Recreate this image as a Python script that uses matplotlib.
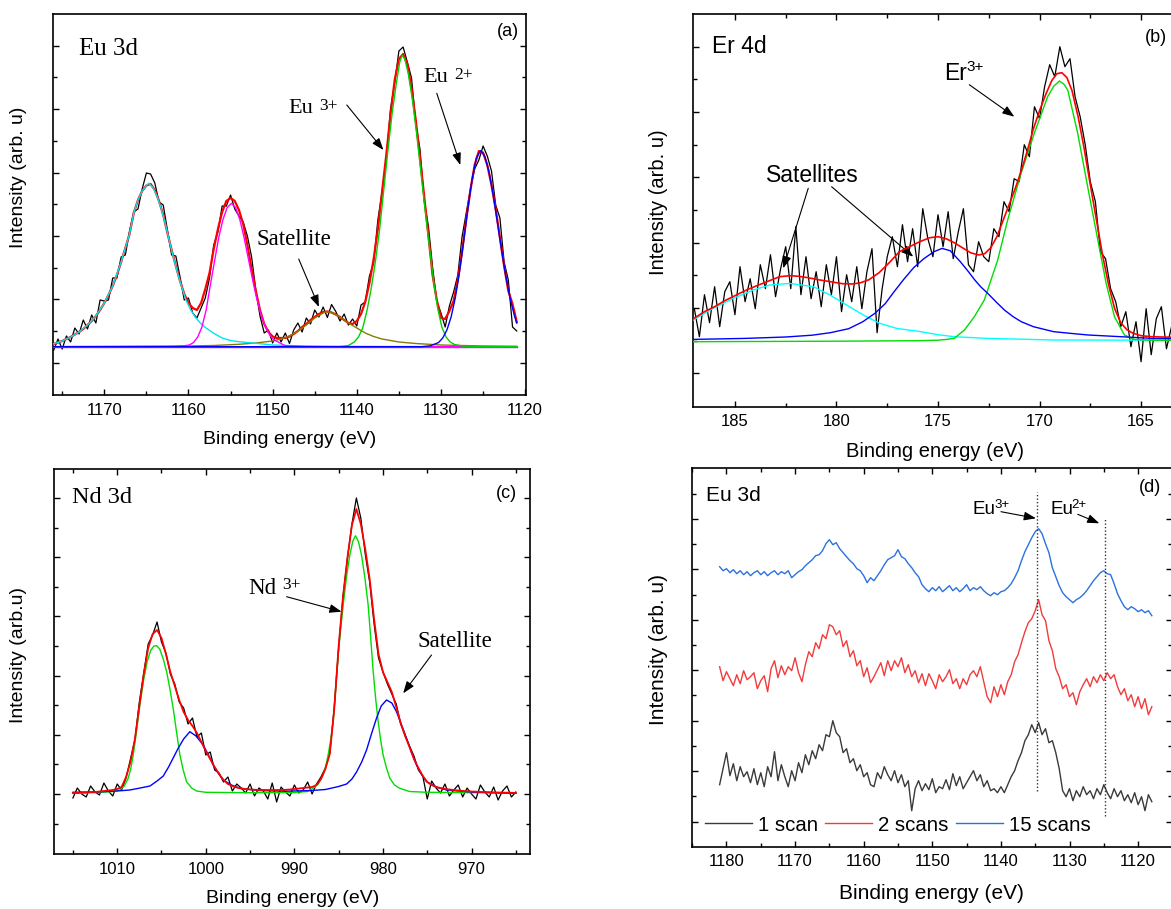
import numpy as np
import matplotlib
matplotlib.use('Agg')
import matplotlib.pyplot as plt
from matplotlib.ticker import FixedLocator, MultipleLocator

SANS = 'Liberation Sans'
SERIF = 'Liberation Serif'
plt.rcParams['font.family'] = [SANS, 'DejaVu Sans']

# ---------------- Panel (a): Eu 3d fit ----------------
A_E_START, A_E_STEP = 1176.0, 0.5
A_DATA = [45, 56, 46, 59, 53, 67, 61, 75, 66, 80,
          72, 95, 94, 95, 117, 117, 138, 140, 164, 183,
          186, 206, 222, 221, 212, 193, 190, 165, 140, 139,
          118, 95, 97, 82, 77, 87, 97, 117, 150, 163,
          189, 189, 200, 186, 179, 173, 159, 138, 105, 79,
          62, 65, 52, 62, 53, 62, 51.5, 65, 72, 63,
          77, 71, 85, 78, 88, 77.5, 90.5, 83.5, 74, 81,
          70, 76, 69, 90, 93, 119, 132, 175, 203, 235,
          286, 312, 344, 348, 333, 317, 272, 246, 195, 169,
          128, 94, 82, 68, 89, 103, 120, 158, 182, 206,
          226, 235, 249, 239, 224, 190, 177, 133, 115, 68, 64]
A_ENV = [51, 52.5, 54, 56, 58, 60.5, 63, 66, 70, 74,
         79, 85, 92, 100, 109, 120, 133, 147, 161, 182,
         195, 204, 209.5, 211, 205, 194, 180, 162, 145, 129,
         114, 101, 92, 87, 85, 92, 106, 122, 146, 166,
         183, 194, 197, 194, 185, 171, 150, 126, 104, 85,
         71, 63, 58.5, 57, 57, 57, 58.5, 61, 64, 68,
         71, 75, 78, 81, 83, 83.5, 82.5, 80.5, 78, 75,
         72, 71, 74, 81, 93, 112, 136, 166, 203, 240,
         280, 315, 336, 341, 331, 307, 275, 238, 199, 160,
         120, 95, 77, 76, 84, 94, 115, 143, 176, 205,
         230, 244, 242.5, 230, 210, 186, 157.5, 129, 104, 91, 73]
A_BASE = 48.3
A_CYAN_E = [1176.1, 1175, 1174, 1173, 1172, 1171, 1170, 1169, 1168, 1167, 1166.5, 1166, 1165.5, 1165,
            1164.7, 1164.2, 1163.7, 1163.3, 1162.8, 1162.3, 1161.8, 1161.3, 1160.8, 1160.3, 1159.8,
            1159.2, 1158.6, 1158, 1157, 1156, 1155, 1154, 1152, 1150, 1147, 1144, 1140, 1135, 1121]
A_CYAN_H = [51, 54, 58, 63, 70, 79, 92, 109, 133, 161, 182, 195, 204, 209.5,
            211.7, 207, 198, 188, 173, 155, 138, 122, 108, 95, 86,
            78, 72, 67.5, 61.7, 57, 54.5, 53.3, 51.7, 50, 49.2, 48.8, 48.5, 48.4, 48.3]
A_MAG_E = [1176.1, 1162, 1160.5, 1159.9, 1159.4, 1158.9, 1158.4, 1157.9, 1157.4, 1156.9, 1156.4, 1155.9,
           1155.4, 1154.9, 1154.4, 1153.9, 1153.4, 1152.9, 1152.4, 1151.9, 1151.4, 1150.9, 1150.4,
           1149.9, 1148.5, 1146, 1121]
A_MAG_H = [48.3, 48.5, 49.2, 50, 52.5, 58, 68, 85, 110, 134, 157.7, 175.5,
           187.4, 191.7, 187.4, 175.5, 157.7, 136.9, 116, 96.9, 81.1, 69.2, 60.9,
           55.4, 49.3, 48.4, 48.3]
A_GRN_E = [1176.1, 1142, 1141, 1140.3, 1139.8, 1139.3, 1138.8, 1138.3, 1137.8, 1137.3, 1136.8, 1136.3,
           1135.8, 1135.3, 1134.9, 1134.6, 1134.3, 1133.9, 1133.4, 1132.9, 1132.4, 1131.9, 1131.4,
           1130.9, 1130.4, 1129.9, 1129.4, 1128.9, 1128.4, 1127.5, 1126, 1121]
A_GRN_H = [48.3, 48.3, 49.5, 53, 58, 67, 84, 106, 133, 165, 205, 245,
           282, 312, 333, 340, 336, 322, 296, 262, 224, 186, 150,
           115, 87, 68, 58, 53, 50.5, 49, 48.5, 48.3]
A_BLU_E = [1176.1, 1132.3, 1131.3, 1130.3, 1129.8, 1129.3, 1128.8, 1128.3, 1127.8, 1127.3, 1126.8,
           1126.3, 1125.8, 1125.3, 1124.8, 1124.3, 1123.8, 1123.3, 1122.8, 1122.3, 1121.8, 1121.3, 1121.0]
A_BLU_H = [48.3, 48.3, 49.1, 52.4, 56.9, 64.9, 77.9, 97.2, 123, 154, 186.8,
           216.3, 236.9, 244.3, 238.8, 223.3, 200.2, 172.8, 144.8, 118.9, 97.2, 80.2, 72]
A_OLV_E = [1176.1, 1170, 1160, 1157, 1154, 1152, 1150, 1149, 1148, 1147, 1146, 1145, 1144, 1143.6,
           1143, 1142, 1141, 1140, 1139, 1138, 1137, 1135, 1133, 1130, 1125, 1121]
A_OLV_H = [48.4, 48.6, 49, 49.5, 50.7, 52, 54, 56, 59, 64, 70, 77, 82, 83.3,
           82.5, 78, 72, 67, 62, 58.5, 56, 53, 51.5, 50, 49, 48.7]

# ---------------- Panel (b): Er 4d fit ----------------
B_E_START, B_E_STEP = 187.0, 0.25
B_DATA = [98, 70, 112, 84, 120, 80, 115, 125, 92, 140,
          105, 128, 98, 142, 118, 152, 110, 138, 160, 118,
          180, 112, 150, 108, 135, 100, 142, 112, 150, 95,
          132, 105, 140, 98, 135, 158, 74, 118, 150, 170,
          140, 182, 145, 178, 140, 198, 168, 150, 192, 160,
          195, 148, 175, 198, 142, 135, 165, 150, 145, 178,
          170, 205, 195, 228, 225, 262, 250, 300, 288, 320,
          342, 330, 360, 340, 348, 310, 290, 262, 225, 205,
          155, 148, 118, 105, 80, 95, 60, 85, 45, 98,
          52, 88, 100, 58, 80]
B_ENV_E = [187.05, 186.5, 186.0, 185.5, 185.0, 184.4, 183.8, 183.3, 182.8, 182.3, 181.9, 181.4, 180.9,
           180.3, 179.7, 179.2, 178.8, 178.4, 177.9, 177.4, 176.9, 176.4, 175.9, 175.4, 175.0, 174.6,
           174.2, 173.8, 173.4, 173.0, 172.7, 172.4, 172.1, 171.8, 171.5, 171.2, 170.9, 170.6, 170.3,
           170.0, 169.7, 169.4, 169.15, 168.9, 168.65, 168.4, 168.1, 167.8, 167.5, 167.2, 166.9, 166.6,
           166.3, 166.0, 165.7, 165.4, 165.0, 164.5, 163.3]
B_ENV_H = [88, 95, 100, 106, 111, 117, 122, 126, 130, 131, 130.5, 129, 127,
           125, 123, 122.7, 124, 127, 134, 144, 155, 160, 165, 169, 170, 168,
           164, 159, 154, 151.7, 153, 159, 170, 186, 202, 218, 236, 256, 278,
           296, 312, 326, 333, 334, 329, 316, 290, 258, 222, 187, 152, 122,
           98, 84, 77, 73.5, 71, 70, 69.3]
B_GRN_E = [187.05, 180.0, 176.0, 175.0, 174.5, 174.2, 173.7, 173.21, 172.72, 172.06, 171.57, 170.91,
           170.26, 169.6, 169.3, 169.02, 168.8, 168.61, 168.12, 167.63, 167.13, 166.72, 166.31,
           165.82, 165.33, 164.5, 163.3]
B_GRN_H = [65, 65.5, 66, 66.5, 67.5, 68.3, 76.7, 90, 106.7, 146.7, 186.7, 233.3,
           273.3, 310, 320.5, 325.7, 322.5, 316.7, 273.3, 220, 166.7, 123.3, 90,
           71.7, 67.3, 66.5, 66.3]
B_BLU_E = [187.05, 184.5, 182.5, 181.2, 180.3, 179.4, 178.7, 178.1, 177.6, 177.2, 176.7, 176.2, 175.7,
           175.2, 174.8, 174.4, 173.9, 173.5, 173.2, 172.9, 172.55, 172.1, 171.73, 171.3, 170.9,
           170.3, 169.3, 168.3, 167.6, 166.0, 164.4, 163.3]
B_BLU_H = [67.3, 68.3, 69.7, 71.5, 74, 78, 85, 93.5, 103, 114, 127, 139, 148,
           155, 158.3, 156, 145, 135, 127, 120, 113.3, 104, 96.7, 90, 85,
           80, 75, 73, 71.7, 70, 68.3, 68]
B_CYN_E = [187.05, 186.07, 185.08, 184.1, 183.28, 182.29, 181.14, 180.32, 179.5, 178.68, 177.86,
           177.03, 175.84, 175.0, 174.2, 172.55, 169.27, 163.3]
B_CYN_H = [86.7, 98.3, 108.3, 116.7, 121.7, 123.3, 120, 111.7, 101.7, 91.7, 83.3,
           78.3, 75, 72, 70, 68.3, 66.7, 66.5]

# ---------------- Panel (c): Nd 3d fit ----------------
C_E_START, C_E_STEP = 1015.0, 0.5
C_DATA = [56, 66, 60, 57, 68, 62, 59, 71, 63, 58,
          70, 64, 76, 95, 114, 152, 181, 210, 219, 232,
          212, 201, 180, 170, 152, 146, 130, 136, 117, 121,
          99, 102, 84, 81, 72, 77, 63, 70, 66, 61,
          70, 58, 66, 63, 55, 71, 52, 67, 62, 58,
          69, 61, 64, 72, 60, 70, 77, 86, 101, 146,
          206, 258, 296, 330, 356, 336, 300, 272, 230, 196,
          182, 170, 160, 150, 130, 119, 108, 98, 84, 78,
          55, 73, 66, 61, 70, 58, 64, 69, 57, 66,
          60, 55, 69, 62, 57, 67, 54, 63, 68, 57, 62]
C_ENV = [61, 61, 61.5, 61.5, 62, 62, 62.5, 63, 63.5, 64,
         65, 67, 77, 92, 115, 148, 180, 206, 220, 224,
         216, 200, 182, 168, 154, 142, 134, 128, 121, 112,
         103, 95, 87, 80, 74, 70, 68, 66.5, 65.5, 65,
         64.5, 64.3, 64, 64, 64, 64, 64, 64, 64.2, 64.5,
         65, 65.5, 66, 66.5, 67, 69, 75, 85, 100, 145,
         208, 258, 297, 329, 345, 330, 305, 275, 235, 200,
         182, 172, 162, 147, 131, 118, 107, 95, 86, 78,
         72, 69, 67, 66, 65, 64.5, 64, 63.5, 63, 62.8,
         62.5, 62.3, 62, 62, 61.8, 61.6, 61.5, 61.4, 61.3, 61.2, 61]
C_GRN_E = [1015, 1012, 1010.5, 1009.7, 1009.2, 1008.76, 1008.45, 1008.19, 1007.8, 1007.44, 1007.0,
           1006.6, 1006.2, 1005.85, 1005.55, 1005.2, 1004.8, 1004.42, 1004.05, 1003.68, 1003.3,
           1002.92, 1002.55, 1002.17, 1001.6, 1001.04, 1000, 995, 990, 988.5, 987.88, 987.3, 986.75,
           986.45, 986.19, 985.9, 985.62, 985.34, 985.06, 984.77, 984.49, 984.1, 983.74, 983.4, 983.1,
           982.75, 982.42, 982.05, 981.67, 981.4, 981.1, 980.82, 980.54, 980.26, 979.98, 979.6,
           979.22, 978.7, 978.1, 977, 975, 965]
C_GRN_H = [60.7, 61.5, 62.5, 64, 68, 75.7, 86, 99, 124, 149, 175,
           193, 204, 208, 208.3, 205, 195, 182.3, 165, 145.7, 122,
           99, 84, 72.3, 66, 63, 61.7, 61.3, 61.5, 62.5, 65.7, 70, 79,
           88, 99, 114, 132.3, 165, 199, 225, 249, 278, 299, 313, 318.3,
           312, 299, 277, 249, 218, 182.3, 155, 132.3, 114, 99, 86,
           75.7, 69, 65.7, 62.5, 61.7, 61]
C_BLU_E = [1015, 1012, 1010, 1008.57, 1007.4, 1006.3, 1005.5, 1004.8, 1004.2, 1003.68, 1003.1,
           1002.5, 1001.8, 1001.1, 1000.29, 999.7, 999.16, 998.6, 998.04, 997.1, 996.15, 994, 991,
           988, 986.5, 985.99, 985, 984.1, 983.5, 982.98, 982.4, 981.85, 981.3, 980.72, 980.2,
           979.6, 979.0, 978.47, 977.9, 977.34, 976.8, 976.21, 975.6, 975.08, 974, 972.82, 970, 965]
C_BLU_H = [61.7, 62.2, 63, 64, 66, 68, 73, 78, 87, 96, 106,
           115, 122.3, 118, 109, 99, 89, 81, 74, 69, 65.7, 63.5, 62.8,
           63.5, 64.5, 65.5, 67.5, 70, 75, 82, 92, 104, 120, 136, 148,
           154, 151, 142.3, 129, 115.7, 102, 89, 79, 72.3, 67, 64, 62, 60.7]

# ---------------- Panel (d): Eu 3d, number of scans ----------------
D_E_START, D_E_STEP = 1181.0, 0.5
D_LABELS = ['1 scan', '2 scans', '15 scans']
D_SCAN1 = [62, 78, 94, 71, 83, 66, 80, 70, 75, 64,
           78, 62, 74, 60, 80, 70, 95, 66, 82, 70,
           60, 76, 66, 84, 74, 92, 82, 96, 88, 102,
           96, 112, 110, 126, 114, 110, 94, 98, 84, 88,
           76, 82, 70, 74, 62, 60, 74, 68, 80, 72,
           66, 76, 64, 72, 60, 66, 36, 58, 66, 56,
           63, 57, 68, 54, 60, 58, 67, 57, 73, 61,
           70, 58, 64, 70, 76, 66, 72, 60, 66, 56,
           58, 54, 60, 54, 62, 70, 76, 86, 94, 106,
           112, 122, 114, 124, 112, 118, 104, 106, 94, 78,
           56, 50, 58, 46, 56, 50, 60, 52, 56, 48,
           58, 52, 62, 54, 48, 58, 50, 56, 46, 52,
           44, 54, 42, 50, 36, 52, 45]
D_SCAN2 = [180, 166, 175, 168, 161, 172, 163, 176, 167, 170,
           174, 158, 166, 171, 155, 178, 186, 169, 181, 172,
           180, 176, 189, 174, 165, 182, 195, 190, 204, 198,
           212, 208, 222, 220, 212, 216, 200, 206, 190, 196,
           181, 186, 170, 179, 164, 170, 177, 184, 171, 186,
           176, 186, 180, 189, 174, 182, 170, 176, 164, 173,
           161, 173, 166, 158, 172, 165, 170, 177, 163, 168,
           158, 168, 162, 172, 176, 170, 180, 165, 150, 144,
           160, 150, 162, 152, 165, 172, 185, 192, 204, 215,
           224, 228, 236, 247, 232, 226, 206, 196, 178, 170,
           158, 162, 150, 154, 142, 155, 162, 168, 160, 170,
           164, 172, 166, 174, 168, 172, 160, 152, 158, 146,
           152, 140, 150, 138, 148, 132, 140]
D_SCAN15 = [280, 276, 278, 274, 277, 273, 276, 272, 275, 271,
            274, 276, 272, 275, 271, 274, 276, 272, 275, 273,
            276, 269, 272, 275, 277, 281, 284, 287, 291, 292,
            296, 303, 307, 302, 304, 298, 294, 290, 286, 283,
            278, 276, 271, 264, 269, 266, 271, 276, 282, 287,
            289, 291, 297, 290, 288, 283, 279, 274, 270, 262,
            258, 255, 259, 256, 260, 255, 258, 261, 256, 259,
            255, 258, 262, 256, 259, 257, 260, 256, 253, 251,
            254, 252, 255, 256, 259, 263, 269, 276, 286, 295,
            302, 309, 315, 318, 313, 303, 294, 279, 270, 261,
            254, 250, 247, 244, 247, 249, 252, 256, 261, 266,
            270, 274, 276, 273, 272, 263, 253, 246, 240, 237,
            240, 238, 235, 237, 234, 236, 231]
D_EU3_LINE = (1134.74, 55.7, 354.4)
D_EU2_LINE = (1124.82, 31.0, 328.4)

W, H = 1171, 909
fig = plt.figure(figsize=(W / 100, H / 100), dpi=100)


def px_axes(l, t, r, b):
    return fig.add_axes([l / W, 1 - b / H, (r - l) / W, (b - t) / H])


def grid(start, step, values):
    return start - step * np.arange(len(values))


def style(ax, xlim, ylim, xmaj, xmin, ymaj, ymin, top=True, right=True):
    ax.set_xlim(*xlim)
    ax.set_ylim(*ylim)
    ax.xaxis.set_major_locator(MultipleLocator(xmaj))
    ax.xaxis.set_minor_locator(MultipleLocator(xmin))
    ax.yaxis.set_major_locator(FixedLocator(ymaj))
    ax.yaxis.set_minor_locator(FixedLocator(ymin))
    ax.tick_params(which='both', direction='in', top=top, right=right, left=True, bottom=True,
                   labelleft=False, labeltop=False, labelright=False)
    ax.tick_params(which='major', length=4.5, width=1.0, labelsize=12, pad=5.5)
    ax.tick_params(which='minor', length=2.6, width=1.0)
    for s in ax.spines.values():
        s.set_linewidth(1.2)


def labels(ax, ylabel, fs, xl_y, yl_xy):
    ax.set_xlabel('Binding energy (eV)', fontsize=fs)
    ax.xaxis.label.set_va('center')
    ax.xaxis.set_label_coords(0.5, xl_y)
    ax.set_ylabel(ylabel, fontsize=fs)
    ax.yaxis.label.set_va('center')
    ax.yaxis.set_label_coords(*yl_xy)


ARW = dict(arrowstyle='-|>,head_length=0.6,head_width=0.22', color='k', lw=0.8,
           mutation_scale=12, shrinkA=0, shrinkB=0)


def arrow(ax, start, end):
    ax.annotate('', xy=end, xytext=start, arrowprops=ARW)


def ion(ax, x, y, base, sup, fs, sfs, family, gap, drop=0.0):
    t = ax.text(x, y, base, fontfamily=family, fontsize=fs, ha='left', va='baseline')
    ax.annotate(sup, xy=(1, 1), xycoords=t, xytext=(gap, -drop), textcoords='offset points',
                fontfamily=family, fontsize=sfs, ha='left', va='top')


# ---------- (a) ----------
ax = px_axes(52.7, 14, 526, 395)
ea = grid(A_E_START, A_E_STEP, A_DATA)
ax.plot(ea, A_DATA, color='k', lw=0.9, zorder=2)
ax.plot(ea, A_ENV, color='#ff0000', lw=1.6, zorder=3)
ax.plot([A_CYAN_E[0], A_CYAN_E[-1]], [A_BASE, A_BASE], color='#8a2be2', lw=1.0, zorder=3)
ax.plot(A_OLV_E, A_OLV_H, color='#808000', lw=1.0, zorder=4)
ax.plot(A_CYAN_E, A_CYAN_H, color='#00e5f0', lw=1.0, zorder=4)
ax.plot(A_MAG_E, A_MAG_H, color='#ff00ff', lw=1.0, zorder=4)
ax.plot(A_GRN_E, A_GRN_H, color='#00d200', lw=1.0, zorder=4)
ax.plot(A_BLU_E, A_BLU_H, color='#0000ff', lw=1.0, zorder=4)
style(ax, (1176.13, 1119.9), (0, 381), 10, 5,
      [32.3, 95.7, 159.0, 222.3, 285.7, 349.3], [64.0, 127.3, 190.7, 254.0, 317.5], top=False)
labels(ax, 'Intensity (arb. u)', 14, -0.118, (-0.072, 0.572))
ax.text(1173.0, 346, 'Eu 3d', fontfamily=SERIF, fontsize=18, ha='left', va='center')
ax.text(1122.0, 363, '(a)', fontsize=13, ha='center', va='center')
ion(ax, 1148.17, 282, 'Eu', '3+', 16, 12.5, SERIF, 4.5, drop=-1)
ion(ax, 1132.13, 313, 'Eu', '2+', 16, 12.5, SERIF, 4.5, drop=-1)
ax.text(1151.97, 150, 'Satellite', fontfamily=SERIF, fontsize=16.5, ha='left', va='baseline')
arrow(ax, (1146.9, 136), (1144.5, 88))
arrow(ax, (1141.19, 290), (1136.84, 245))
arrow(ax, (1130.5, 301.7), (1127.7, 230))

# ---------- (b) ----------
ax = px_axes(693.3, 14, 1176, 406.7)
eb = grid(B_E_START, B_E_STEP, B_DATA)
ax.plot(eb, B_DATA, color='k', lw=0.9, zorder=2)
ax.plot(B_CYN_E, B_CYN_H, color='#00ffff', lw=1.0, zorder=3)
ax.plot(B_GRN_E, B_GRN_H, color='#00dd00', lw=1.0, zorder=3)
ax.plot(B_BLU_E, B_BLU_H, color='#0000ff', lw=1.0, zorder=3)
ax.plot(B_ENV_E, B_ENV_H, color='#ff0000', lw=1.2, zorder=4)
style(ax, (187.05, 163.28), (0, 392.7), 5, 2.5,
      [33.4, 98.7, 164.0, 229.4, 294.7, 360.0], [66.0, 131.3, 196.7, 262.0, 327.3], right=False)
labels(ax, 'Intensity (arb. u)', 14.5, -0.1146, (-0.0721, 0.521))
ax.text(186.12, 360, 'Er 4d', fontsize=16.5, ha='left', va='center')
ax.text(164.28, 369, '(b)', fontsize=13, ha='center', va='center')
ion(ax, 174.72, 326.7, 'Er', '3+', 16.5, 11, SANS, 0.0, drop=-1.5)
ax.text(181.18, 225, 'Satellites', fontsize=16.5, ha='center', va='baseline')
arrow(ax, (181.39, 218.4), (182.62, 138.4))
arrow(ax, (180.24, 220), (176.22, 150))
arrow(ax, (173.46, 322), (171.24, 290))

# ---------- (c) ----------
ax = px_axes(54.3, 469, 530, 854)
ec = grid(C_E_START, C_E_STEP, C_DATA)
ax.plot(ec, C_DATA, color='k', lw=0.9, zorder=2)
ax.plot(C_GRN_E, C_GRN_H, color='#00dd00', lw=1.0, zorder=3)
ax.plot(C_BLU_E, C_BLU_H, color='#0000ff', lw=1.0, zorder=3)
ax.plot(ec, C_ENV, color='#ff0000', lw=1.3, zorder=4)
style(ax, (1017.1, 963.4), (0, 385), 10, 5,
      [60.0, 119.0, 178.3, 237.7, 296.7, 355.7], [30.3, 89.7, 148.7, 208.0, 267.0, 326.3])
labels(ax, 'Intensity (arb.u)', 14, -0.1151, (-0.075, 0.517))
ax.text(1015.08, 356.7, 'Nd 3d', fontfamily=SERIF, fontsize=17.5, ha='left', va='center')
ax.text(966.05, 361, '(c)', fontsize=13, ha='center', va='center')
ion(ax, 995.25, 260, 'Nd', '3+', 16.5, 12.5, SERIF, 4.5, drop=-1)
ax.text(971.83, 207.3, 'Satellite', fontfamily=SERIF, fontsize=16.5, ha='center', va='baseline')
arrow(ax, (990.88, 257.3), (984.67, 242.3))
arrow(ax, (974.52, 199), (977.72, 160.7))

# ---------- (d) ----------
ax = px_axes(691.7, 468.3, 1172, 846.7)
ed = grid(D_E_START, D_E_STEP, D_SCAN1)
l1, = ax.plot(ed, D_SCAN1, color='#3a3a3a', lw=1.0, label=D_LABELS[0])
l2, = ax.plot(ed, D_SCAN2, color='#f03c3c', lw=1.0, label=D_LABELS[1])
l3, = ax.plot(ed, D_SCAN15, color='#2a72e0', lw=1.0, label=D_LABELS[2])
for xline, y0, y1 in (D_EU3_LINE, D_EU2_LINE):
    ax.plot([xline, xline], [y0, y1], linestyle=(0, (1, 1.5)), color='#333333', lw=1.0)
style(ax, (1185.07, 1115.06), (0, 378.4), 10, 5,
      [25.0, 75.4, 126.0, 176.4, 227.0, 277.4, 327.7],
      [50.4, 100.7, 151.4, 201.7, 252.0, 302.4, 352.7])
labels(ax, 'Intensity (arb. u)', 15, -0.1232, (-0.0691, 0.52))
ax.legend(handles=[l1, l2, l3], loc='center left', bbox_to_anchor=(0.0277, 0.0573), ncol=3,
          frameon=False, fontsize=14.7, handlelength=2.3, handletextpad=0.3,
          columnspacing=0.35, borderpad=0, borderaxespad=0)
ax.text(1182.99, 351, 'Eu 3d', fontsize=15, ha='left', va='center')
ax.text(1118.27, 359.4, '(d)', fontsize=13, ha='center', va='center')
ion(ax, 1144.11, 332.4, 'Eu', '3+', 13.5, 9.5, SANS, -1.0, drop=-1.5)
ion(ax, 1132.8, 332.4, 'Eu', '2+', 13.5, 9.5, SANS, -1.0, drop=-1.5)
arrow(ax, (1139.99, 335), (1134.89, 328.4))
arrow(ax, (1128.8, 332.4), (1125.65, 323.4))

fig.savefig('out.png', dpi=100)
